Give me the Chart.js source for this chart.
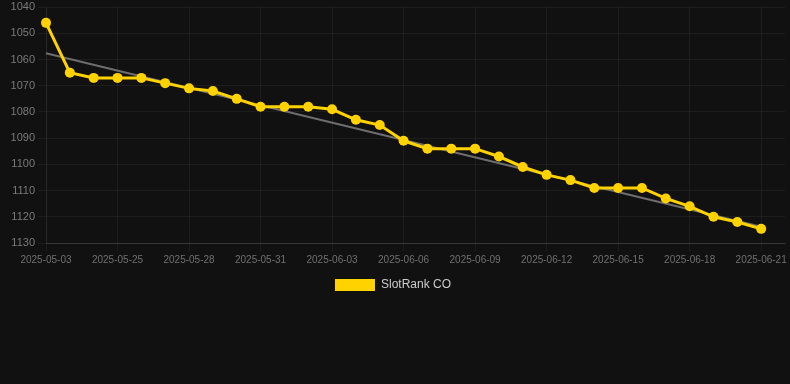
<!DOCTYPE html>
<html>
<head>
<meta charset="utf-8">
<script src="https://cdn.jsdelivr.net/npm/chart.js@4"></script>
<style>
  html, body { margin: 0; padding: 0; background: #111111; }
  #wrap { width: 790px; height: 301px; }
</style>
</head>
<body>
<div id="wrap"><canvas id="chart"></canvas></div>
<script>
// Dates (the last one carries no value, it only widens the axis)
const dates = [
    '2025-05-03', '2025-05-23', '2025-05-24', '2025-05-25', '2025-05-26', '2025-05-27',
    '2025-05-28', '2025-05-29', '2025-05-30', '2025-05-31', '2025-06-01', '2025-06-02',
    '2025-06-03', '2025-06-04', '2025-06-05', '2025-06-06', '2025-06-07', '2025-06-08',
    '2025-06-09', '2025-06-10', '2025-06-11', '2025-06-12', '2025-06-13', '2025-06-14',
    '2025-06-15', '2025-06-16', '2025-06-17', '2025-06-18', '2025-06-19', '2025-06-20',
    '2025-06-21', '2025-06-22',
];

// Rank of SlotRank CO per day
const ranks = [
    1046, 1065, 1067, 1067, 1067, 1069, 1071, 1072, 1075, 1078, 1078, 1078,
    1079, 1083, 1085, 1091, 1094, 1094, 1094, 1097, 1101, 1104, 1106, 1109,
    1109, 1109, 1113, 1116, 1120, 1122, 1124.6, null,
];

// Trend line end points (first and last day)
const trend = dates.map(() => null);
trend[0] = 1057.6;
trend[30] = 1123.8;

const yMin = 1040;
const yMax = 1130;
const yStep = 10;

new Chart(document.getElementById('chart'), {
    type: 'line',
    data: {
        labels: dates,
        datasets: [
            {
                label: 'SlotRank CO',
                data: ranks,
                borderColor: '#ffd200',
                backgroundColor: '#ffd200',
                borderWidth: 3,
                pointRadius: 5,
                pointBackgroundColor: '#ffd200',
                pointBorderWidth: 0,
                tension: 0,
            },
            {
                label: 'trend',
                data: trend,
                borderColor: 'rgba(140,140,140,0.75)',
                borderWidth: 2,
                pointRadius: 0,
                spanGaps: true,
                fill: false,
            },
        ],
    },
    options: {
        responsive: true,
        maintainAspectRatio: false,
        animation: false,
        layout: { padding: { left: 0, right: 4 } },
        plugins: {
            legend: {
                position: 'bottom',
                labels: {
                    color: '#cccccc',
                    boxWidth: 40,
                    boxHeight: 12,
                    font: { family: 'Liberation Sans, Arial', size: 12 },
                    generateLabels: (chart) => Chart.defaults.plugins.legend.labels
                        .generateLabels(chart)
                        .filter((item) => item.text !== 'trend')
                        .map((item) => ({ ...item, lineWidth: 0 })),
                },
            },
            tooltip: { enabled: false },
        },
        scales: {
            x: {
                grid: { color: 'rgba(255,255,255,0.05)' },
                border: { color: 'rgba(255,255,255,0.12)' },
                ticks: {
                    color: '#707070',
                    autoSkip: false,
                    maxRotation: 0,
                    font: { family: 'Liberation Sans, Arial', size: 10 },
                    callback: function (value, index) {
                        return index % 3 === 0 && index <= 30 ? this.getLabelForValue(value) : null;
                    },
                },
            },
            y: {
                reverse: true,
                min: yMin,
                max: yMax,
                afterFit: (scale) => { scale.width = 46; },
                grid: { color: 'rgba(255,255,255,0.05)' },
                border: { color: 'rgba(255,255,255,0.05)' },
                ticks: {
                    stepSize: yStep,
                    color: '#7a7a7a',
                    font: { family: 'Liberation Sans, Arial', size: 11, lineHeight: 0.75 },
                    callback: (value) => String(value),
                },
            },
        },
    },
});
</script>
</body>
</html>
